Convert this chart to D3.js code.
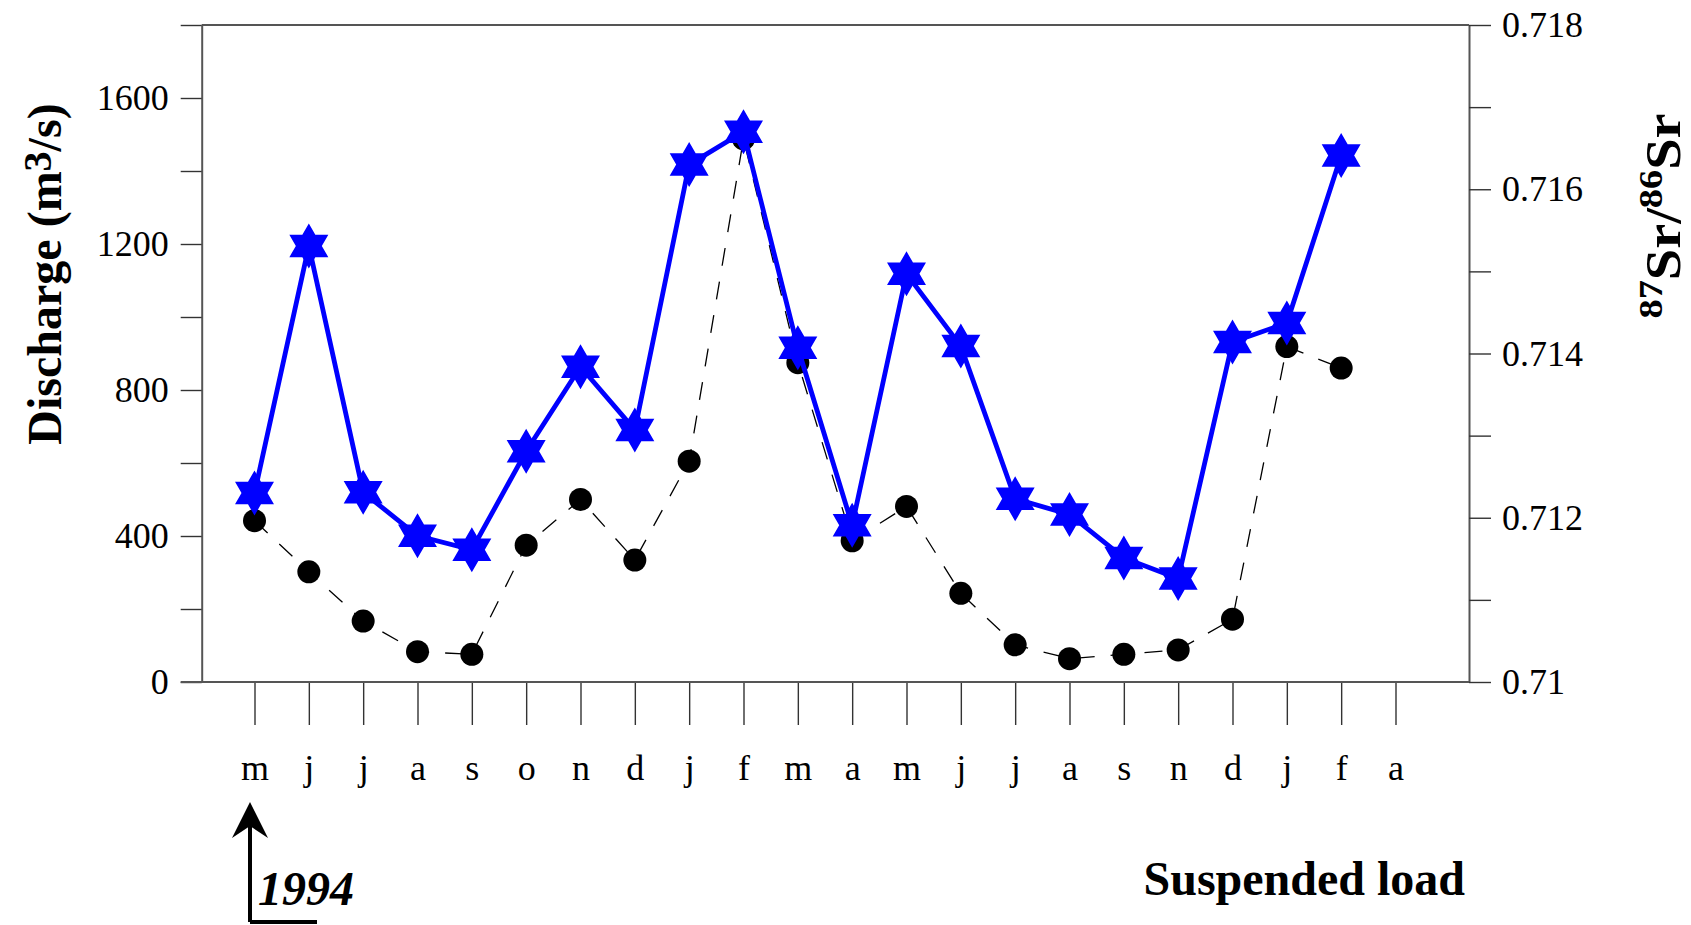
<!DOCTYPE html>
<html>
<head>
<meta charset="utf-8">
<script src="https://cdn.jsdelivr.net/npm/d3@7"></script>
<style>
  body { margin: 0; background: #fff; }
  svg { display: block; }
  text { font-family: "Liberation Serif", "Times New Roman", serif; fill: #000; }
</style>
</head>
<body>
<svg width="1691" height="925"></svg>
<script>
// months from may 1994 to april 1996 (no october in the second year)
var months = ["m", "j", "j", "a", "s", "o", "n", "d", "j", "f", "m", "a",
              "m", "j", "j", "a", "s", "n", "d", "j", "f", "a"];

// discharge (m3/s), black dots
var discharge = [442, 302, 167, 83, 76, 375, 500, 334, 605, 1488, 875, 387,
                 481, 243, 102, 64, 76, 88, 172, 919, 860];

// 87Sr/86Sr of suspended load, blue stars
var srRatio = [0.71230, 0.71531, 0.71231, 0.71178, 0.71161, 0.71281, 0.71384, 0.71307,
               0.71630, 0.71670, 0.71407, 0.71191, 0.71497, 0.71409, 0.71223, 0.71204,
               0.71151, 0.71126, 0.71414, 0.71437, 0.71641];

var leftTicks = [0, 200, 400, 600, 800, 1000, 1200, 1400, 1600, 1800];
var rightTicks = [0.710, 0.711, 0.712, 0.713, 0.714, 0.715, 0.716, 0.717, 0.718];

var svg = d3.select("svg");

var pLeft = 201.7, pRight = 1469, pTop = 25, pBottom = 682;

var x = d3.scaleLinear()
    .domain([0, 21])
    .range([254.5, 1395.5]);

var yQ = d3.scaleLinear()
    .domain([0, 1800])
    .range([pBottom, pTop]);

var ySr = d3.scaleLinear()
    .domain([0.710, 0.718])
    .range([pBottom, pTop]);

// top line
svg.append("line")
    .attr("x1", pLeft).attr("x2", pRight)
    .attr("y1", pTop).attr("y2", pTop)
    .attr("stroke", "#555").attr("stroke-width", 2);

// left axis
var gl = svg.append("g")
    .attr("transform", "translate(" + pLeft + ",0)")
    .call(d3.axisLeft(yQ)
        .tickValues(leftTicks)
        .tickSize(21)
        .tickSizeOuter(0)
        .tickPadding(12)
        .tickFormat(function (d) { return d % 400 === 0 && d < 1800 ? d : ""; }));

// right axis
var gr = svg.append("g")
    .attr("transform", "translate(" + pRight + ",0)")
    .call(d3.axisRight(ySr)
        .tickValues(rightTicks)
        .tickSize(22)
        .tickSizeOuter(0)
        .tickPadding(11)
        .tickFormat(function (d, i) { return i % 2 === 0 ? +d.toFixed(3) : ""; }));

// bottom axis with month ticks
var gb = svg.append("g")
    .attr("transform", "translate(0," + pBottom + ")")
    .call(d3.axisBottom(x)
        .tickValues(d3.range(months.length))
        .tickSize(43)
        .tickSizeOuter(0)
        .tickPadding(0)
        .tickFormat(function (d) { return months[d]; }));

gb.select(".domain").remove();
svg.append("line")
    .attr("x1", pLeft - 21).attr("x2", pRight)
    .attr("y1", pBottom).attr("y2", pBottom)
    .attr("stroke", "#555").attr("stroke-width", 2);

[gl, gr, gb].forEach(function (g) {
    g.select(".domain").attr("stroke", "#555").attr("stroke-width", 2);
    g.selectAll(".tick line").attr("stroke", "#333").attr("stroke-width", 1.4);
    g.selectAll("text")
        .style("font-family", "'Liberation Serif', serif")
        .style("font-size", "36px")
        .attr("fill", "#000");
});
gb.selectAll(".tick text").attr("y", 0).attr("dy", 0)
    .attr("transform", "translate(0,98)");

// black dashed discharge line
var lineQ = d3.line()
    .x(function (d, i) { return x(i); })
    .y(function (d) { return yQ(d); });

svg.append("path")
    .datum(discharge)
    .attr("d", lineQ)
    .attr("fill", "none")
    .attr("stroke", "#000")
    .attr("stroke-width", 1.3)
    .attr("stroke-dasharray", "18,16");

svg.selectAll(".dot")
    .data(discharge)
    .enter()
    .append("circle")
    .attr("class", "dot")
    .attr("cx", function (d, i) { return x(i); })
    .attr("cy", function (d) { return yQ(d); })
    .attr("r", 11.5)
    .attr("fill", "#000");

// blue Sr line with six-pointed stars
var lineSr = d3.line()
    .x(function (d, i) { return x(i); })
    .y(function (d) { return ySr(d); });

svg.append("path")
    .datum(srRatio)
    .attr("d", lineSr)
    .attr("fill", "none")
    .attr("stroke", "#0000ff")
    .attr("stroke-width", 4.8);

function hexagram(R) {
    var pts = [];
    for (var k = 0; k < 12; k++) {
        var a = -Math.PI / 2 + k * Math.PI / 6;
        var r = k % 2 === 0 ? R : R / Math.sqrt(3);
        pts.push([r * Math.cos(a), r * Math.sin(a)]);
    }
    return "M" + pts.join("L") + "Z";
}

svg.selectAll(".star")
    .data(srRatio)
    .enter()
    .append("path")
    .attr("class", "star")
    .attr("transform", function (d, i) { return "translate(" + x(i) + "," + ySr(d) + ")"; })
    .attr("d", hexagram(22.5))
    .attr("fill", "#0000ff");

// axis titles
var t1 = svg.append("text")
    .attr("transform", "translate(61,274) rotate(-90)")
    .attr("text-anchor", "middle")
    .style("font-weight", "bold")
    .style("font-size", "48px");
t1.append("tspan").text("Discharge (m");
t1.append("tspan").attr("baseline-shift", "25%").style("font-size", "40px").text("3");
t1.append("tspan").text("/s)");

var t2 = svg.append("text")
    .attr("transform", "translate(1680,216) rotate(-90)")
    .attr("text-anchor", "middle")
    .attr("textLength", 205)
    .attr("lengthAdjust", "spacingAndGlyphs")
    .style("font-weight", "bold")
    .style("font-size", "50px");
t2.append("tspan").attr("baseline-shift", "super").style("font-size", "34px").text("87");
t2.append("tspan").text("Sr/");
t2.append("tspan").attr("baseline-shift", "super").style("font-size", "34px").text("86");
t2.append("tspan").text("Sr");

svg.append("text")
    .attr("x", 1465).attr("y", 895)
    .attr("text-anchor", "end")
    .style("font-weight", "bold")
    .style("font-size", "48px")
    .text("Suspended load");

// 1994 start marker
svg.append("path")
    .attr("d", "M250,922V812M250,922H317")
    .attr("fill", "none")
    .attr("stroke", "#000")
    .attr("stroke-width", 4);
svg.append("path")
    .attr("d", "M250,802L268,838L250,826L232,838Z")
    .attr("fill", "#000");
svg.append("text")
    .attr("x", 258).attr("y", 905)
    .style("font-weight", "bold")
    .style("font-style", "italic")
    .style("font-size", "48px")
    .text("1994");
</script>
</body>
</html>
